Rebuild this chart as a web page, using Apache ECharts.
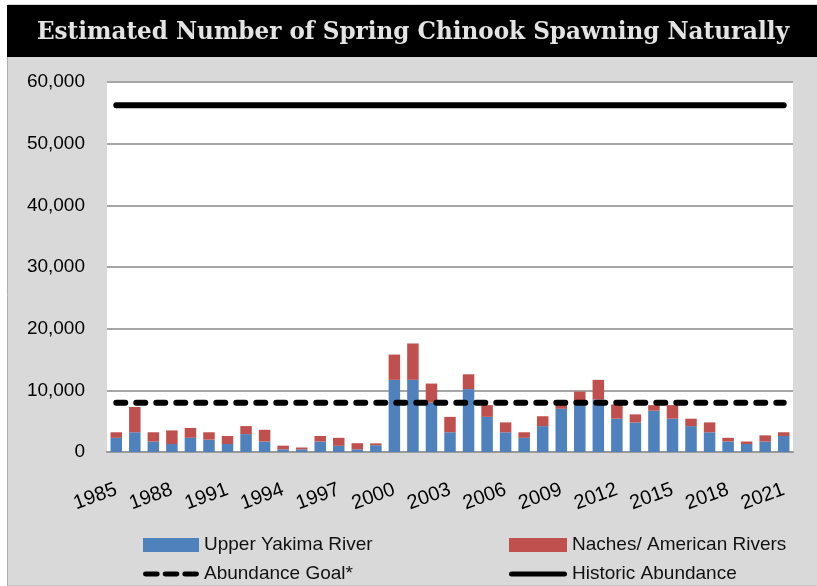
<!DOCTYPE html>
<html>
<head>
<meta charset="utf-8">
<script src="https://cdn.jsdelivr.net/npm/echarts@6/dist/echarts.min.js"></script>
<style>
  html, body { margin: 0; padding: 0; background: #fff; }
  #chart { width: 817px; height: 586px; }
</style>
</head>
<body>
<div id="chart"></div>
<script>
// years on the x axis
const years = [
  '1985', '1986', '1987', '1988', '1989', '1990', '1991', '1992', '1993', '1994',
  '1995', '1996', '1997', '1998', '1999', '2000', '2001', '2002', '2003', '2004',
  '2005', '2006', '2007', '2008', '2009', '2010', '2011', '2012', '2013', '2014',
  '2015', '2016', '2017', '2018', '2019', '2020', '2021'
];
// fish counted in the upper Yakima
const upperYakima = [
  2300, 3200, 1700, 1300, 2300, 2000, 1300, 2900, 1700, 430,
  430, 1700, 1000, 430, 1100, 11700, 11700, 8000, 3200, 10200,
  5700, 3200, 2300, 4200, 7000, 7600, 8500, 5400, 4800, 6700,
  5400, 4200, 3200, 1700, 1300, 1700, 2600
];
// Naches / American rivers, stacked on top
const nachesAmerican = [
  900, 4100, 1500, 2200, 1600, 1200, 1300, 1300, 1900, 600,
  300, 900, 1300, 1000, 300, 4100, 5900, 3100, 2500, 2400,
  1900, 1600, 900, 1600, 900, 2200, 3200, 2300, 1300, 900,
  2200, 1200, 1600, 600, 400, 1000, 600
];
const ABUNDANCE_GOAL = 8000;
const HISTORIC_ABUNDANCE = 56250;
const yTicks = [0, 10000, 20000, 30000, 40000, 50000, 60000];

const goalLine = years.map(() => ABUNDANCE_GOAL);
const historicLine = years.map(() => HISTORIC_ABUNDANCE);

const FONT = "'Liberation Sans', Arial, sans-serif";

// legend icons drawn as paths (three round-ish dashes / one solid bar)
const DASH_ICON = 'path://M2,0h12a2,2 0 0 1 0,5h-12a2,2 0 0 1 0,-5z M22,0h12a2,2 0 0 1 0,5h-12a2,2 0 0 1 0,-5z M42,0h12a2,2 0 0 1 0,5h-12a2,2 0 0 1 0,-5z';
const SOLID_ICON = 'path://M2,0h53a2,2 0 0 1 0,5h-53a2,2 0 0 1 0,-5z';

const chart = echarts.init(document.getElementById('chart'), null, { renderer: 'canvas' });

const options = {
  animation: false,
  backgroundColor: 'transparent',
  graphic: [
    // grey page + black title band
    { type: 'rect', z: -10, shape: { x: 7.5, y: 5, width: 810, height: 581 },
      style: { fill: '#d9d9d9', stroke: '#b0b0b0', lineWidth: 1 } },
    { type: 'rect', z: -9, shape: { x: 7, y: 5, width: 810, height: 52 },
      style: { fill: '#000' } },
    { type: 'text', z: 10, x: 413, y: 32, scaleX: 0.924,
      style: {
        x: 0, y: 0,
        align: 'center', verticalAlign: 'middle',
        text: 'Estimated Number of Spring Chinook Spawning Naturally',
        fill: '#e4e4e4',
        font: "bold 25px 'DejaVu Serif', serif"
      }
    }
  ],
  grid: {
    left: 107, right: 24, top: 82, bottom: 134,
    show: true, backgroundColor: '#fff', borderWidth: 0
  },
  legend: [
    {
      left: 143, top: 535, orient: 'vertical', padding: 0,
      itemWidth: 56, itemHeight: 14, itemGap: 9,
      textStyle: { fontFamily: FONT, fontSize: 19, lineHeight: 20, color: '#111' },
      data: [
        { name: 'Upper Yakima River', icon: 'rect' },
        { name: 'Abundance Goal*', icon: DASH_ICON, itemStyle: { color: '#000' } }
      ]
    },
    {
      left: 509, top: 535, orient: 'vertical', padding: 0,
      itemWidth: 58, itemHeight: 14, itemGap: 9,
      textStyle: { fontFamily: FONT, fontSize: 19, lineHeight: 20, color: '#111' },
      data: [
        { name: 'Naches/ American Rivers', icon: 'rect' },
        { name: 'Historic Abundance', icon: SOLID_ICON, itemStyle: { color: '#000' } }
      ]
    }
  ],
  xAxis: {
    type: 'category',
    data: years,
    boundaryGap: true,
    axisLine: { lineStyle: { color: '#9a9a9a', width: 2 } },
    axisTick: { show: false },
    axisLabel: {
      interval: 2,
      rotate: 20,
      margin: 37,
      color: '#000',
      fontFamily: FONT,
      fontSize: 20
    }
  },
  yAxis: {
    type: 'value',
    min: 0, max: 60000, interval: 10000,
    axisLine: { show: false },
    axisTick: { show: false },
    splitLine: { lineStyle: { color: '#a6a6a6', width: 2 } },
    axisLabel: {
      margin: 22,
      color: '#000',
      fontFamily: FONT,
      fontSize: 19,
      formatter: v => yTicks.includes(v) ? v.toLocaleString('en-US') : ''
    }
  },
  series: [
    {
      name: 'Upper Yakima River',
      type: 'bar',
      stack: 'fish',
      barWidth: '62%',
      itemStyle: { color: '#4f81bd' },
      data: upperYakima
    },
    {
      name: 'Naches/ American Rivers',
      type: 'bar',
      stack: 'fish',
      barWidth: '62%',
      itemStyle: { color: '#c0504d' },
      data: nachesAmerican
    },
    {
      name: 'Abundance Goal*',
      type: 'line',
      z: 5,
      symbol: 'none',
      itemStyle: { color: '#000' },
      lineStyle: { color: '#000', width: 6, type: [9, 11], cap: 'round' },
      data: goalLine
    },
    {
      name: 'Historic Abundance',
      type: 'line',
      z: 5,
      symbol: 'none',
      itemStyle: { color: '#000' },
      lineStyle: { color: '#000', width: 6, cap: 'round' },
      data: historicLine
    }
  ]
};

chart.setOption(options);
</script>
</body>
</html>
